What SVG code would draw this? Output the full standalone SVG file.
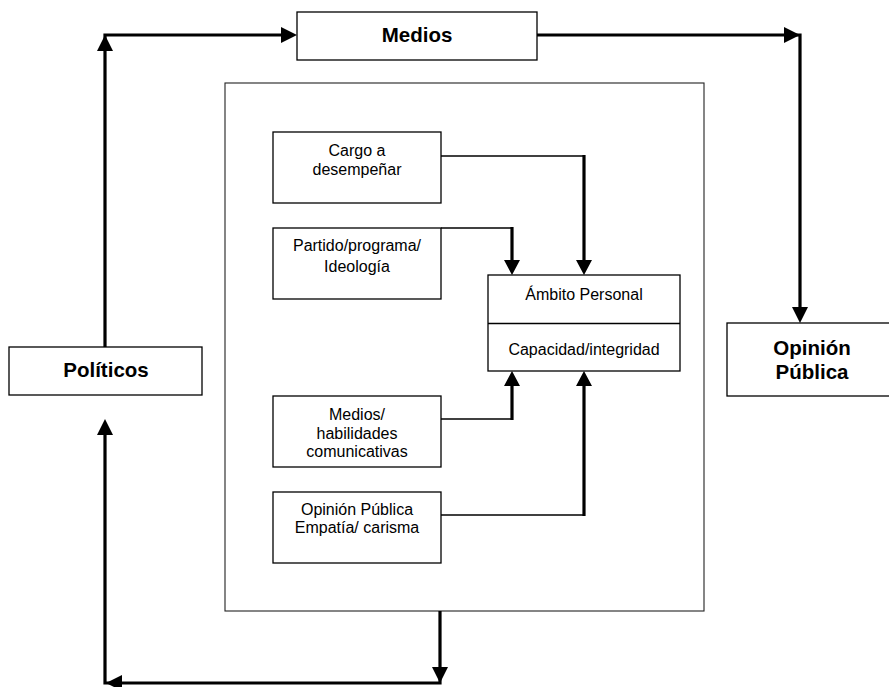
<svg xmlns="http://www.w3.org/2000/svg" width="889" height="687" viewBox="0 0 889 687">
  <style>
    .box { fill: #fff; stroke: #000; stroke-width: 1.3; }
    .frame { fill: none; stroke: #222; stroke-width: 1.1; }
    .big { font-family: "Liberation Sans", Arial, sans-serif; font-size: 20.5px; font-weight: bold; text-anchor: middle; fill: #000; }
    .small { font-family: "Liberation Sans", Arial, sans-serif; font-size: 16px; text-anchor: middle; fill: #000; }
    .thick { fill: none; stroke: #000; stroke-width: 3.2; }
    .thin { fill: none; stroke: #000; stroke-width: 1.4; }
    .head { fill: #000; }
  </style>

  <!-- enclosing frame of the personal sphere -->
  <rect class="frame" x="225" y="83" width="479" height="528"/>

  <g id="connectors">
    <!-- outer loop: Políticos -> Medios -> Opinión Pública -> back to Políticos -->
    <polyline class="thick" points="105,347 105,35 282,35"/>
    <polygon class="head" points="105,35 97,51 113,51"/>
    <polygon class="head" points="297,35 281,27 281,43"/>

    <polyline class="thick" points="537,35 800,35 800,309"/>
    <polygon class="head" points="800,35 784,27 784,43"/>
    <polygon class="head" points="800,323 792,307 808,307"/>

    <polyline class="thick" points="440,611 440,683 105,683 105,434"/>
    <polygon class="head" points="440,683 432,667 448,667"/>
    <polygon class="head" points="106,683 122,675 122,691"/>
    <polygon class="head" points="105,419 97,435 113,435"/>

    <!-- inner influences on the personal sphere -->
    <polyline class="thin" points="441,156 584,156"/>
    <line class="thick" x1="584" y1="155" x2="584" y2="261"/>
    <polygon class="head" points="584,275 576,260 592,260"/>

    <polyline class="thin" points="441,228 512,228"/>
    <line class="thick" x1="512" y1="227" x2="512" y2="261"/>
    <polygon class="head" points="512,275 504,260 520,260"/>

    <polyline class="thin" points="441,419 512,419"/>
    <line class="thick" x1="512" y1="420" x2="512" y2="385"/>
    <polygon class="head" points="512,371 504,386 520,386"/>

    <polyline class="thin" points="441,515 584,515"/>
    <line class="thick" x1="584" y1="516" x2="584" y2="385"/>
    <polygon class="head" points="584,371 576,386 592,386"/>
  </g>

  <g id="medios">
    <rect class="box" x="297" y="12" width="240" height="48"/>
    <text class="big" x="417" y="42">Medios</text>
  </g>

  <g id="politicos">
    <rect class="box" x="9" y="347" width="193" height="48"/>
    <text class="big" x="106" y="377">Políticos</text>
  </g>

  <g id="opinion-publica">
    <rect class="box" x="727" y="323" width="170" height="73"/>
    <text class="big" x="812" y="355">Opinión</text>
    <text class="big" x="812" y="379">Pública</text>
  </g>

  <g id="cargo">
    <rect class="box" x="273" y="132" width="168" height="71"/>
    <text class="small" x="357" y="156">Cargo a</text>
    <text class="small" x="357" y="175">desempeñar</text>
  </g>

  <g id="partido">
    <rect class="box" x="273" y="228" width="168" height="71"/>
    <text class="small" x="357" y="251">Partido/programa/</text>
    <text class="small" x="357" y="272">Ideología</text>
  </g>

  <g id="ambito-personal">
    <rect class="box" x="488" y="275" width="192" height="96"/>
    <line class="box" x1="488" y1="323.5" x2="680" y2="323.5"/>
    <text class="small" x="584" y="300">Ámbito Personal</text>
    <text class="small" x="584" y="355">Capacidad/integridad</text>
  </g>

  <g id="medios-habilidades">
    <rect class="box" x="273" y="396" width="168" height="71"/>
    <text class="small" x="357" y="420">Medios/</text>
    <text class="small" x="357" y="439">habilidades</text>
    <text class="small" x="357" y="457">comunicativas</text>
  </g>

  <g id="opinion-empatia">
    <rect class="box" x="273" y="492" width="168" height="71"/>
    <text class="small" x="357" y="515">Opinión Pública</text>
    <text class="small" x="357" y="533">Empatía/ carisma</text>
  </g>
</svg>
